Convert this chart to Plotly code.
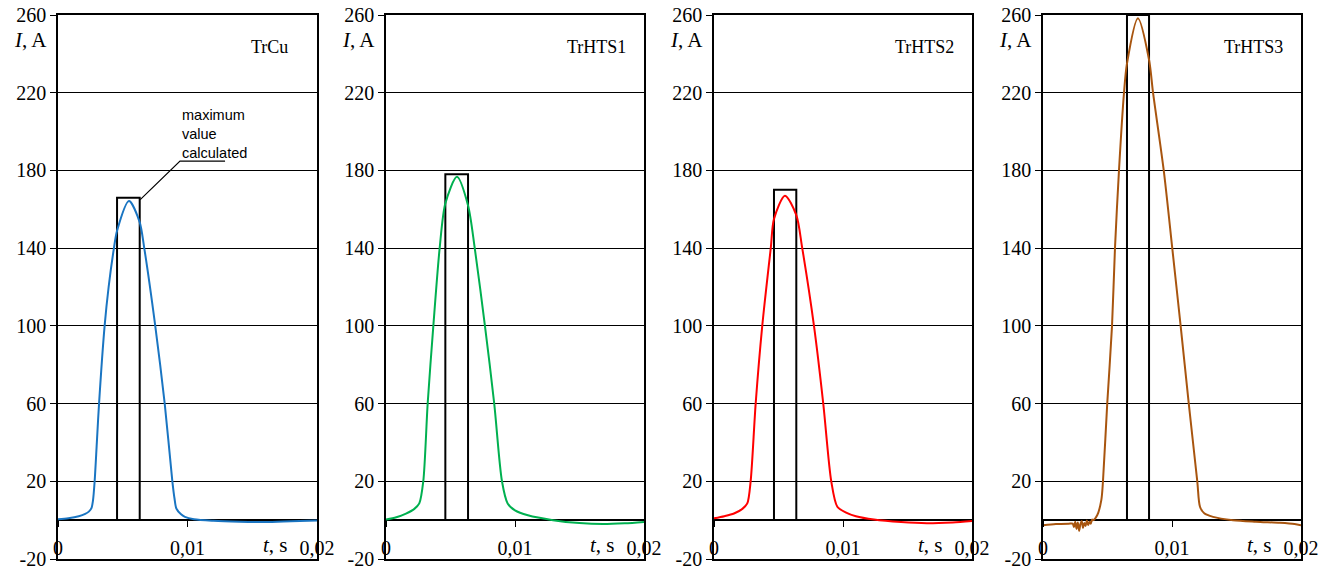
import plotly.graph_objects as go

# ---------------- data ----------------
panel_names = ["TrCu", "TrHTS1", "TrHTS2", "TrHTS3"]
line_colors = ["#1a75c2", "#00b050", "#ff0000", "#a8550f"]

t_cu = [0, 0.0008, 0.0016, 0.0021, 0.0024, 0.0026, 0.0027, 0.00283, 0.003, 0.00317, 0.0036,
        0.00391, 0.00432, 0.00456, 0.00548, 0.0063, 0.00666, 0.00751, 0.00824,
        0.00883, 0.0090, 0.00914, 0.0095, 0.0098, 0.0105, 0.012, 0.014, 0.016, 0.018, 0.02]
i_cu = [0.5, 1.0, 2.0, 3.2, 4.5, 6.5, 10, 20, 40, 60, 100,
        120, 140, 149, 164.3, 153.5, 140, 100, 60,
        20, 11, 6, 3, 1.7, 0.5, -0.3, -0.8, -1.0, -0.6, -0.2]

t_hts1 = [0, 0.0008, 0.00155, 0.0022, 0.00258, 0.00289, 0.00323, 0.00367, 0.00416,
          0.0046, 0.0055, 0.00636, 0.00688, 0.00767, 0.00839, 0.00899,
          0.00943, 0.0100, 0.0110, 0.01295, 0.0150, 0.01682, 0.0185, 0.02]
i_hts1 = [0.3, 1.5, 3.4, 5.8, 8.6, 20, 60, 100, 140,
          163, 176.7, 162, 140, 100, 60, 20,
          8.6, 5, 2.5, 0, -1.5, -2.0, -1.6, -0.9]

t_hts2 = [0, 0.0008, 0.00155, 0.0022, 0.00258, 0.00284, 0.00323, 0.00374, 0.0044,
          0.00465, 0.0055, 0.00638, 0.00684, 0.00775, 0.00847, 0.00909,
          0.00956, 0.0102, 0.0110, 0.0124, 0.0145, 0.0165, 0.0185, 0.02]
i_hts2 = [0.9, 2.0, 3.4, 5.8, 8.6, 20, 60, 100, 140,
          155, 167, 157, 140, 100, 60, 20,
          6.9, 4, 2, 0.3, -1.0, -1.6, -1.2, -0.5]

t_hts3 = [0, 0.0010, 0.0020, 0.0023, 0.0024, 0.0025, 0.0026, 0.0027, 0.0028, 0.0029, 0.0030,
          0.0031, 0.0032, 0.0033, 0.0034, 0.0035, 0.0036, 0.0037, 0.0038, 0.00388, 0.0042,
          0.00452, 0.00465, 0.00498, 0.00535, 0.00558, 0.00589, 0.00628, 0.00651,
          0.00736, 0.00822, 0.00853, 0.00936, 0.01002, 0.01067, 0.0113, 0.01196,
          0.01217, 0.0125, 0.01318, 0.01473, 0.0165, 0.01837, 0.0195, 0.02]
i_hts3 = [-2.6, -2.0, -1.8, -1.8, -3.5, -0.8, -4.5, -1.2, -5.5, -2.0, -0.5,
          -4.0, -1.5, -3.0, -0.2, -2.5, -0.8, -1.8, 0.3, 0.0, 2.5,
          10.3, 20, 60, 100, 140, 180, 220, 235,
          258.3, 237, 220, 180, 140, 100, 60, 20,
          6.9, 3.5, 1.7, 0.0, -0.8, -1.4, -2.0, -2.6]

t_series = [t_cu, t_hts1, t_hts2, t_hts3]
i_series = [i_cu, i_hts1, i_hts2, i_hts3]

# "maximum value calculated" boxes
rect_t0 = [0.00456, 0.0046, 0.00465, 0.00651]
rect_t1 = [0.00631, 0.00636, 0.00638, 0.00822]
rect_top = [166, 178, 170, 260]

y_ticks = [-20, 20, 60, 100, 140, 180, 220, 260]
x_ticks = [0, 0.01, 0.02]
x_ticktext = ["0", "0,01", "0,02"]

# ---------------- layout helpers ----------------
W, H = 1332, 569
px_left = [58, 386, 714, 1043]
px_right = [317, 644, 972, 1301]
y_dom = [1 - 559 / H, 1 - 15 / H]
x_zero_pos = 1 - 520 / H

serif = "Liberation Serif, Times New Roman, serif"
fig = go.Figure()
layout = dict(
    template="none",
    width=W, height=H,
    margin=dict(l=0, r=0, t=0, b=0, pad=0),
    paper_bgcolor="white", plot_bgcolor="white",
    showlegend=False,
    font=dict(family=serif, size=20, color="black"),
)

annotations = []
shapes = []
for k in range(4):
    n = k + 1
    xa = "x" if n == 1 else f"x{n}"
    ya = "y" if n == 1 else f"y{n}"
    dom = [px_left[k] / W, px_right[k] / W]
    fig.add_trace(go.Scatter(
        x=[rect_t0[k], rect_t0[k], rect_t1[k], rect_t1[k]],
        y=[0, rect_top[k], rect_top[k], 0],
        mode="lines", line=dict(color="black", width=2),
        xaxis=xa, yaxis=ya, hoverinfo="skip", cliponaxis=False))
    fig.add_trace(go.Scatter(
        x=t_series[k], y=i_series[k], mode="lines",
        line=dict(color=line_colors[k], width=2, shape="spline", smoothing=0.8),
        xaxis=xa, yaxis=ya, name=panel_names[k]))
    layout["xaxis" if n == 1 else f"xaxis{n}"] = dict(
        domain=dom, range=[0, 0.02], anchor=ya, automargin=False,
        showline=True, mirror=True, linecolor="black", linewidth=1.5,
        showgrid=False, zeroline=False, showticklabels=False, ticks="")
    layout["yaxis" if n == 1 else f"yaxis{n}"] = dict(
        domain=y_dom, range=[-20, 260], anchor=xa, automargin=False,
        tickmode="array", tickvals=y_ticks, ticktext=[str(v) for v in y_ticks],
        ticks="outside", ticklen=6, tickcolor="black", tickwidth=1,
        ticklabeloverflow="allow",
        showline=True, mirror=True, linecolor="black", linewidth=1.5,
        showgrid=True, gridcolor="black", gridwidth=1,
        zeroline=True, zerolinecolor="black", zerolinewidth=1.5,
        tickfont=dict(family=serif, size=20))
    # x tick labels along the y = 0 line
    m = n + 4
    layout[f"xaxis{m}"] = dict(
        domain=dom, range=[0, 0.02], overlaying=xa, anchor="free",
        position=x_zero_pos, side="bottom", automargin=False,
        tickmode="array", tickvals=x_ticks, ticktext=x_ticktext,
        ticks="outside", ticklen=6, tickcolor="black", tickwidth=1,
        ticklabeloverflow="allow",
        showline=False, showgrid=False, zeroline=False,
        ticklabelstandoff=4,
        tickfont=dict(family=serif, size=20))
    fig.add_trace(go.Scatter(x=[], y=[], xaxis=f"x{m}", yaxis=ya, hoverinfo="skip"))

    annotations.append(dict(
        xref=f"{xa} domain", yref=f"{ya} domain", x=-0.035, y=0.954,
        xanchor="right", yanchor="middle", showarrow=False,
        text="<i>I</i>, A", font=dict(family=serif, size=21)))
    annotations.append(dict(
        xref=xa, yref=ya, x=0.0163, y=243.5, xanchor="center", yanchor="middle",
        showarrow=False, text=panel_names[k], font=dict(family=serif, size=18)))
    annotations.append(dict(
        xref=xa, yref=ya, x=0.0168, y=-13, xanchor="center", yanchor="middle",
        showarrow=False, text="<i>t</i>, s", font=dict(family=serif, size=21)))

annotations.append(dict(
    xref="x", yref="y", x=0.0094, y=199, xanchor="left", yanchor="middle",
    showarrow=False, align="left", text="maximum<br>value<br>calculated",
    font=dict(family="Liberation Sans, Arial, sans-serif", size=14.5)))
shapes.append(dict(
    type="path", xref="x", yref="y",
    path="M 0.00635,165 L 0.00942,184.8 L 0.0129,184.8",
    line=dict(color="black", width=1.2)))

layout["annotations"] = annotations
layout["shapes"] = shapes
fig.update_layout(**layout)
fig.write_html(
    "out.html",
    config={"displayModeBar": False},
    post_script="document.body.style.margin='0';document.body.style.overflow='hidden';")
